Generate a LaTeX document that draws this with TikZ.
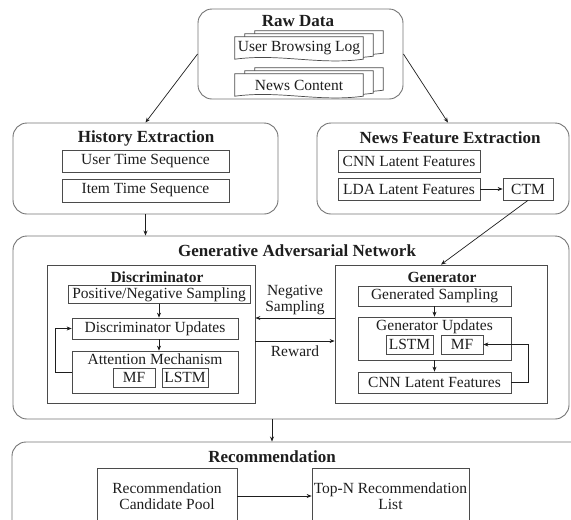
\documentclass[tikz,border=0pt]{standalone}
\usepackage{fontspec}
\setmainfont{Liberation Serif}
\usepackage{tikz}
\usetikzlibrary{arrows.meta,positioning,backgrounds}
\definecolor{frame}{RGB}{115,115,115}
\definecolor{edge}{RGB}{75,75,75}
\definecolor{ink}{RGB}{30,30,30}

% stacked document sheets behind a text node
\newcommand{\docpile}[1]{%
  \foreach \i in {2,1,0}{%
    \draw[edge, line width=0.7pt, fill=white]
      ([shift={(10*\i,-3*\i)}]#1.north west) -- ([shift={(10*\i,-3*\i)}]#1.north east)
      -- ([shift={(10*\i,-3*\i)}]#1.south east)
      .. controls +(-45,6) and +(45,-6) .. ([shift={(10*\i,-3*\i)}]#1.south west) -- cycle;
  }}

\begin{document}
\begin{tikzpicture}[x=1pt, y=-1pt,
  group/.style={draw=frame, line width=0.9pt, rounded corners=14pt, inner sep=0pt},
  panel/.style={draw=edge, line width=0.8pt, inner sep=0pt},
  box/.style={draw=edge, line width=0.7pt, inner sep=0pt, text=ink, align=center,
    font=\fontsize{15.5}{16}\selectfont},
  boxtext/.style={inner sep=0pt, text=ink, align=center, font=\fontsize{15.5}{16}\selectfont},
  gtitle/.style={inner sep=0pt, text=ink, font=\fontsize{17}{19}\selectfont\bfseries},
  stitle/.style={inner sep=0pt, text=ink, font=\fontsize{15.5}{17}\selectfont\bfseries},
  arr/.style={-{Stealth[length=5pt,width=4pt]}, line width=0.7pt, draw=ink}]
  \useasboundingbox (0,0) rectangle (571,520);
  \clip (0,0) rectangle (571,520);

  % raw data
  \node[group, minimum width=205pt, minimum height=90pt] (raw) at (300.5,54) {};
  \node[gtitle] (rawt) at (298,21) {Raw Data};
  \node[boxtext, minimum width=128pt, minimum height=22pt] (ubl) at (299,48) {User Browsing Log};
  \node[boxtext, minimum width=128pt, minimum height=22pt] (nc) at (299,85) {News Content};
  \begin{scope}[on background layer]
    \docpile{ubl}
    \docpile{nc}
  \end{scope}

  % history extraction
  \node[group, minimum width=265pt, minimum height=91pt] (hist) at (145.5,168.5) {};
  \node[gtitle] (histt) at (146,138) {History Extraction};
  \node[box, minimum width=167pt, minimum height=22pt] (uts) at (145.5,161) {User Time Sequence};
  \node[box, minimum width=167pt, minimum height=23pt] (its) at (145.5,190.5) {Item Time Sequence};

  % news feature extraction
  \node[group, minimum width=252pt, minimum height=91pt] (nfe) at (443,168.5) {};
  \node[gtitle] (nfet) at (450,138) {News Feature Extraction};
  \node[box, minimum width=142pt, minimum height=22pt] (cnn) at (409,161) {CNN Latent Features};
  \node[box, minimum width=142pt, minimum height=22pt] (lda) at (409,189) {LDA Latent Features};
  \node[box, minimum width=50pt, minimum height=22pt] (ctm) at (528,189) {CTM};
  \draw[arr] (lda) -- (ctm);

  \draw[arr] (raw.west) -- (hist.north);
  \draw[arr] (raw.east) -- ([xshift=5pt]nfe.north);

  % GAN
  \node[group, minimum width=556pt, minimum height=183pt] (gan) at (291,327.5) {};
  \node[gtitle] (gant) at (297,251) {Generative Adversarial Network};
  \draw[arr] (hist.south) -- (hist.south |- gan.north);

  % discriminator
  \node[panel, minimum width=208pt, minimum height=138pt] (disc) at (151,334) {};
  \node[stitle] (disct) at (157,277) {Discriminator};
  \node[box, minimum width=182pt, minimum height=18pt] (pns) at (159,294.5) {Positive/Negative Sampling};
  \node[box, minimum width=166pt, minimum height=21pt] (du) at (155,328.5) {Discriminator Updates};
  \node[box, minimum width=166pt, minimum height=42pt] (att) at (155,372) {};
  \node[boxtext, below=3pt of att.north] (attt) {Attention Mechanism};
  \node[box, minimum width=42pt, minimum height=19pt] (mf1) at (134,377.5) {MF};
  \node[box, minimum width=46pt, minimum height=19pt] (lstm1) at (185,377.5) {LSTM};
  \draw[arr] (pns.south) -- (pns.south |- du.north);
  \draw[arr] (pns.south |- du.south) -- (pns.south |- att.north);
  \draw[arr] (att.west) -- ++(-16,0) |- (du.west);

  % generator
  \node[panel, minimum width=212pt, minimum height=138pt] (gen) at (441,334) {};
  \node[stitle] (gent) at (442,277) {Generator};
  \node[box, minimum width=153pt, minimum height=20pt] (gs) at (434.5,296) {Generated Sampling};
  \node[box, minimum width=153pt, minimum height=43pt] (gu) at (434.5,338.5) {};
  \node[boxtext, below=3pt of gu.north] (gut) {Generator Updates};
  \node[box, minimum width=47pt, minimum height=19pt] (lstm2) at (409.5,344.5) {LSTM};
  \node[box, minimum width=42pt, minimum height=19pt] (mf2) at (462,344.5) {MF};
  \node[box, minimum width=153pt, minimum height=21pt] (cnn2) at (434.5,382.5) {CNN Latent Features};
  \draw[arr] (gs.south) -- (gu.north);
  \draw[arr] (gu.south) -- (cnn2.north);
  \draw[arr] (cnn2.east) -- ++(17,0) |- (mf2.east);

  \draw[arr] (ctm.south) -- (gen.north);
  \draw[arr] ([yshift=16pt]gen.west) -- node[boxtext, above=3pt] (negl) {Negative\\Sampling}
    ([yshift=16pt]disc.east);
  \draw[arr] ([yshift=-7pt]disc.east) -- node[boxtext, below=4pt] (rewl) {Reward}
    ([yshift=-7pt]gen.west);

  % recommendation
  \node[group, minimum width=580pt, minimum height=130pt] (rec) at (302,507) {};
  \node[gtitle] (rect) at (272,457) {Recommendation};
  \draw[arr] (rect |- gan.south) -- (rect |- rec.north);
  \node[box, minimum width=140pt, minimum height=56pt] (pool) at (167,496) {Recommendation\\Candidate Pool};
  \node[box, minimum width=157pt, minimum height=56pt] (topn) at (390.5,496) {Top-N Recommendation\\List};
  \draw[arr] (pool) -- (topn);
\end{tikzpicture}
\end{document}
